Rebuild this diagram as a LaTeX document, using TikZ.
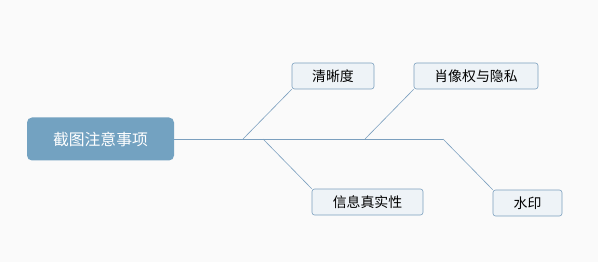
\documentclass[tikz,border=0pt]{standalone}
\usepackage{fontspec}
\newfontfamily\cjk{Noto Sans CJK SC}
\definecolor{bg}{HTML}{FAFAFA}
\definecolor{rootfill}{HTML}{73A2C1}
\definecolor{leaffill}{HTML}{EEF3F7}
\definecolor{edge}{HTML}{7B9FBE}
\begin{document}
\begin{tikzpicture}[x=1pt,y=-1pt,
  rootbox/.style={draw=none,fill=rootfill,rounded corners=5pt,minimum width=147pt,minimum height=43pt,inner sep=0pt,text=white,font=\cjk\fontsize{15.8}{18}\selectfont},
  leafbox/.style={draw=edge,line width=0.6pt,fill=leaffill,rounded corners=2.5pt,minimum height=26pt,inner sep=0pt,text=black,font=\cjk\fontsize{13.9}{16}\selectfont},
  conn/.style={draw=edge,line width=0.6pt}]
\fill[bg] (0,0) rectangle (598,262);
\useasboundingbox (0,0) rectangle (598,262);
\node[rootbox] (root) at (100.5,139) {截图注意事项};
\node[leafbox,minimum width=82pt] (q) at (333,76) {清晰度};
\node[leafbox,minimum width=124pt] (x) at (476,76) {肖像权与隐私};
\node[leafbox,minimum width=111pt] (s) at (367.5,202) {信息真实性};
\node[leafbox,minimum width=69pt] (w) at (527.5,203) {水印};
\coordinate (e) at (443,139);
\coordinate (jq) at (243,139);
\coordinate (js) at (263,139);
\coordinate (jx) at (365,139);
\draw[conn] (root.east) -- (e);
\draw[conn] (jq) -- (q.south west);
\draw[conn] (js) -- (s.north west);
\draw[conn] (jx) -- (x.south west);
\draw[conn] (e) -- (w.north west);
\end{tikzpicture}
\end{document}
